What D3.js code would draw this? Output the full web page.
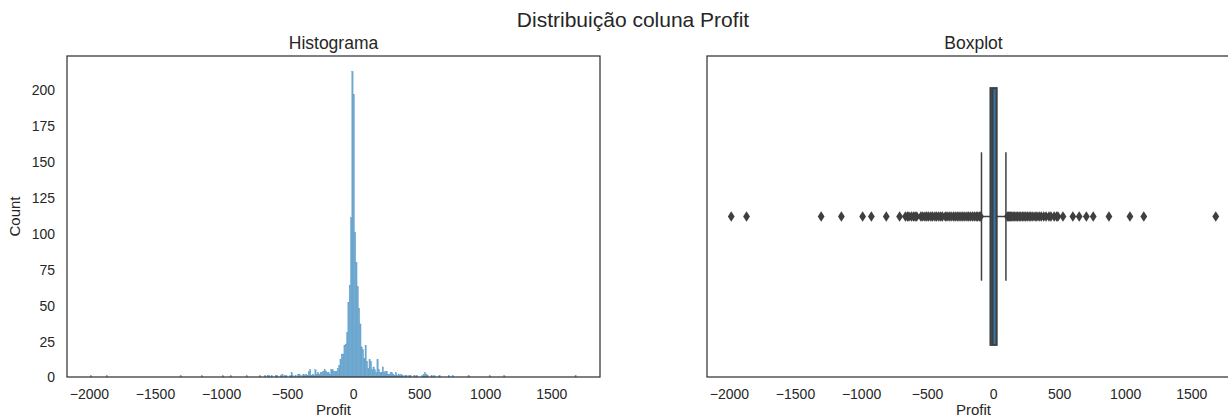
<!DOCTYPE html>
<html>
<head>
<meta charset="utf-8">
<script src="https://cdn.jsdelivr.net/npm/d3@7"></script>
<style>
  body { margin: 0; background: #fff; }
  svg { display: block; font-family: "Liberation Sans", Arial, sans-serif; }
</style>
</head>
<body>
<svg id="chart" width="1228" height="418"></svg>
<script>
// ---- data ----------------------------------------------------------------
const binWidth = 10;
// histogram counts for consecutive bins starting at centerStart
const centerStart = -500;
const centerCounts = [
  0, 0, 1, 3, 1, 0, 1, 0, 2, 2,          // -500 .. -410
  0, 1, 2, 1, 2, 1, 4, 5, 1, 2,          // -400 .. -310
  1, 5, 2, 3, 2, 3, 3, 4, 5, 4,          // -300 .. -210
  3, 3, 2, 5, 5, 4, 4, 4, 6, 8,          // -200 .. -110
  12, 16, 16, 22, 23, 31, 52, 64, 111, 213, // -100 .. -10
  197, 101, 80, 63, 48, 37, 21, 19, 13, 22, //    0 .. 90
  11, 6, 12, 11, 5, 7, 5, 3, 12, 5,      //  100 .. 190
  3, 3, 7, 3, 4, 4, 2, 2, 3, 3,          //  200 .. 290
  2, 1, 3, 1, 2, 1, 2, 1, 0, 1,          //  300 .. 390
  1, 0, 1, 1, 0, 0, 1, 0, 1, 0,          //  400 .. 490
  0, 0, 1, 2, 3, 2, 1, 0, 0, 1,          //  500 .. 590
  0, 1, 0, 0, 0, 1, 0, 0, 0, 0           //  600 .. 690
];
// isolated bins in the tails: [bin start, count]
const tailBins = [
  [-1990, 1], [-1870, 1], [-1310, 1], [-1150, 1], [-990, 1], [-930, 1],
  [-810, 1], [-710, 1], [-670, 1], [-650, 1], [-640, 1], [-620, 1],
  [-590, 1], [-580, 1], [-550, 1], [-540, 2], [-520, 1], [-510, 1],
  [720, 1], [750, 1], [870, 1], [1030, 1], [1140, 1], [1680, 1]
];

// boxplot: [lower whisker, Q1, median, Q3, upper whisker]
const boxStats = [-88, -20, -5, 27, 97];
const outliers = [
  -1983, -1867, -1302, -1149, -988, -922, -809, -708,
  -664, -648, -637, -619, -603, -591, -578,
  -547, -533, -516, -502, -488, -471, -459, -441, -428, -412, -397, -384,
  -362, -349, -333, -318, -301, -287, -272, -258, -243, -229, -214, -198,
  -185, -171, -156, -142, -128, -117, -104, -95,
  108, 117, 126, 134, 142, 151, 163, 174, 186, 197, 209, 222, 234, 247,
  259, 273, 286, 301, 318, 332, 349, 364, 383, 401, 423, 438, 462, 481, 491,
  529, 604, 652, 706, 758, 877, 1036, 1141, 1686
];

const xTicks = [-2000, -1500, -1000, -500, 0, 500, 1000, 1500];
const yTicks = [0, 25, 50, 75, 100, 125, 150, 175, 200];

const suptitle = "Distribuição coluna Profit";
const histTitle = "Histograma";
const boxTitle = "Boxplot";
const xLabel = "Profit";
const yLabel = "Count";

// ---- layout --------------------------------------------------------------
const textColor = "#262626";
const spineColor = "#333333";
const histColor = "#6ea8cf";
const histEdge = "#5a9bc8";
const boxFill = "#3274a1";
const boxLine = "#3f3f3f";

const plotTop = 56, plotBottom = 377;
const leftPanel = { x0: 67, x1: 600 };
const rightPanel = { x0: 707, x1: 1240 };

const svg = d3.select("#chart");

const bins = centerCounts.map((c, i) => ({ start: centerStart + i * binWidth, count: c }))
  .concat(tailBins.map(([s, c]) => ({ start: s, count: c })))
  .filter(d => d.count > 0);

const [dmin, dmax] = d3.extent(outliers);
const pad = (dmax - dmin) * 0.05;
const xDomain = [dmin - pad, dmax + pad];

const maxCount = d3.max(bins, d => d.count);
const y = d3.scaleLinear().domain([0, maxCount * 1.05]).range([plotBottom, plotTop]);

function xAxis(g, scale) {
  const ax = d3.axisBottom(scale).tickValues(xTicks).tickSize(0).tickPadding(0)
    .tickFormat(d => d3.format("d")(d).replace("-", "\u2212"));
  g.attr("transform", `translate(0,${plotBottom})`).call(ax);
  g.select(".domain").remove();
  g.selectAll("text")
    .attr("y", 22).attr("dy", 0)
    .attr("fill", textColor)
    .style("font-size", "14px")
    .style("font-family", "'Liberation Sans', Arial, sans-serif");
}

// ---- histogram panel -----------------------------------------------------
const xl = d3.scaleLinear().domain(xDomain).range([leftPanel.x0, leftPanel.x1]);

const gH = svg.append("g");
gH.selectAll("rect.bar").data(bins).join("rect")
  .attr("class", "bar")
  .attr("x", d => xl(d.start))
  .attr("width", d => xl(d.start + binWidth) - xl(d.start))
  .attr("y", d => y(d.count))
  .attr("height", d => plotBottom - y(d.count))
  .attr("fill", histColor)
  .attr("stroke", histEdge)
  .attr("stroke-width", 0.35);

gH.append("g").call(g => xAxis(g, xl));

const yAx = d3.axisLeft(y).tickValues(yTicks).tickSize(0).tickPadding(0);
const gy = gH.append("g").attr("transform", `translate(${leftPanel.x0},0)`).call(yAx);
gy.select(".domain").remove();
gy.selectAll("text")
  .attr("x", -12).attr("dy", "0.35em")
  .attr("fill", textColor)
  .style("font-size", "14px")
  .style("font-family", "'Liberation Sans', Arial, sans-serif");

gH.append("rect")
  .attr("x", leftPanel.x0).attr("y", plotTop)
  .attr("width", leftPanel.x1 - leftPanel.x0).attr("height", plotBottom - plotTop)
  .attr("fill", "none").attr("stroke", spineColor).attr("stroke-width", 1.25);

gH.append("text")
  .attr("x", (leftPanel.x0 + leftPanel.x1) / 2).attr("y", 49)
  .attr("text-anchor", "middle").attr("fill", textColor)
  .style("font-size", "17.5px").text(histTitle);

gH.append("text")
  .attr("x", (leftPanel.x0 + leftPanel.x1) / 2).attr("y", 415)
  .attr("text-anchor", "middle").attr("fill", textColor)
  .style("font-size", "15px").text(xLabel);

gH.append("text")
  .attr("transform", `translate(20,${(plotTop + plotBottom) / 2}) rotate(-90)`)
  .attr("text-anchor", "middle").attr("fill", textColor)
  .style("font-size", "15px").text(yLabel);

// ---- boxplot panel -------------------------------------------------------
const xr = d3.scaleLinear().domain(xDomain).range([rightPanel.x0, rightPanel.x1]);
const yb = d3.scaleLinear().domain([-0.5, 0.5]).range([plotTop, plotBottom]);
const cy = yb(0);
const [wLo, q1, med, q3, wHi] = boxStats;

const gB = svg.append("g");

// whiskers
gB.append("line").attr("x1", xr(wLo)).attr("x2", xr(q1)).attr("y1", cy).attr("y2", cy)
  .attr("stroke", boxLine).attr("stroke-width", 1.5);
gB.append("line").attr("x1", xr(q3)).attr("x2", xr(wHi)).attr("y1", cy).attr("y2", cy)
  .attr("stroke", boxLine).attr("stroke-width", 1.5);
// caps
[wLo, wHi].forEach(v => {
  gB.append("line").attr("x1", xr(v)).attr("x2", xr(v))
    .attr("y1", yb(-0.2)).attr("y2", yb(0.2))
    .attr("stroke", boxLine).attr("stroke-width", 1.5);
});
// box
gB.append("rect")
  .attr("x", xr(q1)).attr("width", xr(q3) - xr(q1))
  .attr("y", yb(-0.4)).attr("height", yb(0.4) - yb(-0.4))
  .attr("fill", boxFill).attr("stroke", boxLine).attr("stroke-width", 2);
// median
gB.append("line").attr("x1", xr(med)).attr("x2", xr(med))
  .attr("y1", yb(-0.4)).attr("y2", yb(0.4))
  .attr("stroke", boxLine).attr("stroke-width", 2);
// outliers (thin diamonds)
gB.selectAll("path.flier").data(outliers).join("path")
  .attr("class", "flier")
  .attr("transform", d => `translate(${xr(d)},${cy})`)
  .attr("d", "M0,-5.2L3.4,0L0,5.2L-3.4,0Z")
  .attr("fill", boxLine);

gB.append("g").call(g => xAxis(g, xr));

gB.append("rect")
  .attr("x", rightPanel.x0).attr("y", plotTop)
  .attr("width", rightPanel.x1 - rightPanel.x0).attr("height", plotBottom - plotTop)
  .attr("fill", "none").attr("stroke", spineColor).attr("stroke-width", 1.25);

gB.append("text")
  .attr("x", (rightPanel.x0 + rightPanel.x1) / 2).attr("y", 49)
  .attr("text-anchor", "middle").attr("fill", textColor)
  .style("font-size", "17.5px").text(boxTitle);

gB.append("text")
  .attr("x", (rightPanel.x0 + rightPanel.x1) / 2).attr("y", 415)
  .attr("text-anchor", "middle").attr("fill", textColor)
  .style("font-size", "15px").text(xLabel);

// ---- figure title --------------------------------------------------------
svg.append("text")
  .attr("x", 633).attr("y", 27)
  .attr("text-anchor", "middle").attr("fill", textColor)
  .style("font-size", "21px").text(suptitle);
</script>
</body>
</html>
